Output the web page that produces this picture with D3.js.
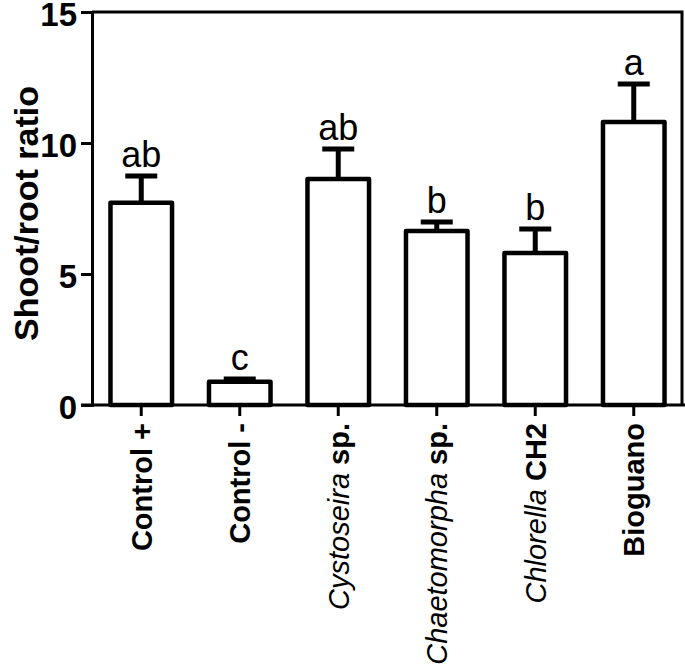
<!DOCTYPE html>
<html>
<head>
<meta charset="utf-8">
<script src="https://cdn.jsdelivr.net/npm/d3@7"></script>
<style>
  html, body { margin: 0; padding: 0; background: #fff; }
  svg { display: block; font-family: "Liberation Sans", Arial, Helvetica, sans-serif; }
</style>
</head>
<body>
<svg id="chart" width="685" height="666"></svg>
<script>
// ---- data ----
const categories = ["Control +", "Control -", "Cystoseira sp.", "Chaetomorpha sp.", "Chlorella CH2", "Bioguano"];
const italicPart = ["", "", "Cystoseira", "Chaetomorpha", "Chlorella", ""];
const boldPart = ["Control +", "Control -", " sp.", " sp.", " CH2", "Bioguano"];
const values = [7.72, 0.89, 8.63, 6.64, 5.80, 10.80];
const errors = [1.02, 0.10, 1.14, 0.34, 0.92, 1.45];
const letters = ["ab", "c", "ab", "b", "b", "a"];
const yTicks = [0, 5, 10, 15];
const yTitle = "Shoot/root ratio";

// ---- layout ----
const mLeft = 92, mRight = 682, mTop = 12, mBottom = 405;
const labSize = 29, tickSize = 33, letterSize = 36, titleSize = 34;
const svg = d3.select("#chart");

const x = d3.scaleBand().domain(categories).range([mLeft, mRight + 1]).paddingInner(0.375).paddingOuter(0.1875);
const y = d3.scaleLinear().domain([0, 15]).range([mBottom, mTop]);

// frame (top and right)
svg.append("path")
  .attr("d", `M${mLeft},${mTop}H${mRight}V${mBottom}`)
  .attr("fill", "none").attr("stroke", "#000").attr("stroke-width", 3);

// y axis
const yAxis = svg.append("g").attr("transform", `translate(${mLeft},0)`)
  .call(d3.axisLeft(y).tickValues(yTicks).tickSize(11).tickPadding(4).tickFormat(d3.format("d")));
yAxis.select(".domain").attr("stroke-width", 3);
yAxis.selectAll(".tick line").attr("stroke-width", 3);
yAxis.selectAll(".tick text").attr("font-size", tickSize).attr("font-weight", "bold").attr("fill", "#000")
  .attr("dy", "0.42em")
  .attr("font-family", "'Liberation Sans', Arial, sans-serif");

// x axis
const xAxis = svg.append("g").attr("transform", `translate(0,${mBottom})`)
  .call(d3.axisBottom(x).tickSize(11).tickFormat(""));
xAxis.select(".domain").attr("d", `M${mLeft - 11},0H${mRight + 3}`).attr("stroke-width", 3);
xAxis.selectAll(".tick line").attr("stroke-width", 3);

// bars
const g = svg.append("g");
g.selectAll("rect.bar").data(categories).join("rect")
  .attr("class", "bar")
  .attr("x", d => x(d))
  .attr("y", (d, i) => y(values[i]))
  .attr("width", x.bandwidth())
  .attr("height", (d, i) => y(0) - y(values[i]))
  .attr("fill", "#fff").attr("stroke", "#000").attr("stroke-width", 4.5)
  .attr("stroke-linejoin", "round");

// error bars (upper only)
const capW = 32;
g.selectAll("line.err").data(categories).join("line")
  .attr("class", "err")
  .attr("x1", d => x(d) + x.bandwidth() / 2).attr("x2", d => x(d) + x.bandwidth() / 2)
  .attr("y1", (d, i) => y(values[i])).attr("y2", (d, i) => y(values[i] + errors[i]))
  .attr("stroke", "#000").attr("stroke-width", 5);
g.selectAll("line.cap").data(categories).join("line")
  .attr("class", "cap")
  .attr("x1", d => x(d) + x.bandwidth() / 2 - capW / 2).attr("x2", d => x(d) + x.bandwidth() / 2 + capW / 2)
  .attr("y1", (d, i) => y(values[i] + errors[i])).attr("y2", (d, i) => y(values[i] + errors[i]))
  .attr("stroke", "#000").attr("stroke-width", 5);

// significance letters
g.selectAll("text.letter").data(categories).join("text")
  .attr("class", "letter")
  .attr("x", d => x(d) + x.bandwidth() / 2)
  .attr("y", (d, i) => y(values[i] + errors[i]) - 9)
  .attr("text-anchor", "middle").attr("font-size", letterSize).attr("fill", "#000")
  .text((d, i) => letters[i]);

// category labels (rotated)
const lab = svg.append("g").selectAll("text").data(categories).join("text")
  .attr("transform", d => `translate(${x(d) + x.bandwidth() / 2 + 0.36 * labSize},${mBottom + 18}) rotate(-90)`)
  .attr("text-anchor", "end").attr("font-size", labSize).attr("fill", "#000");
lab.each(function(d, i) {
  const t = d3.select(this);
  if (italicPart[i]) t.append("tspan").attr("font-style", "italic").text(italicPart[i]);
  t.append("tspan").attr("font-weight", "bold").text(boldPart[i]);
});

// y title
svg.append("text")
  .attr("transform", `translate(${38},${(mTop + mBottom) / 2 + 5}) rotate(-90)`)
  .attr("text-anchor", "middle").attr("font-size", titleSize).attr("font-weight", "bold").attr("fill", "#000")
  .text(yTitle);
</script>
</body>
</html>
